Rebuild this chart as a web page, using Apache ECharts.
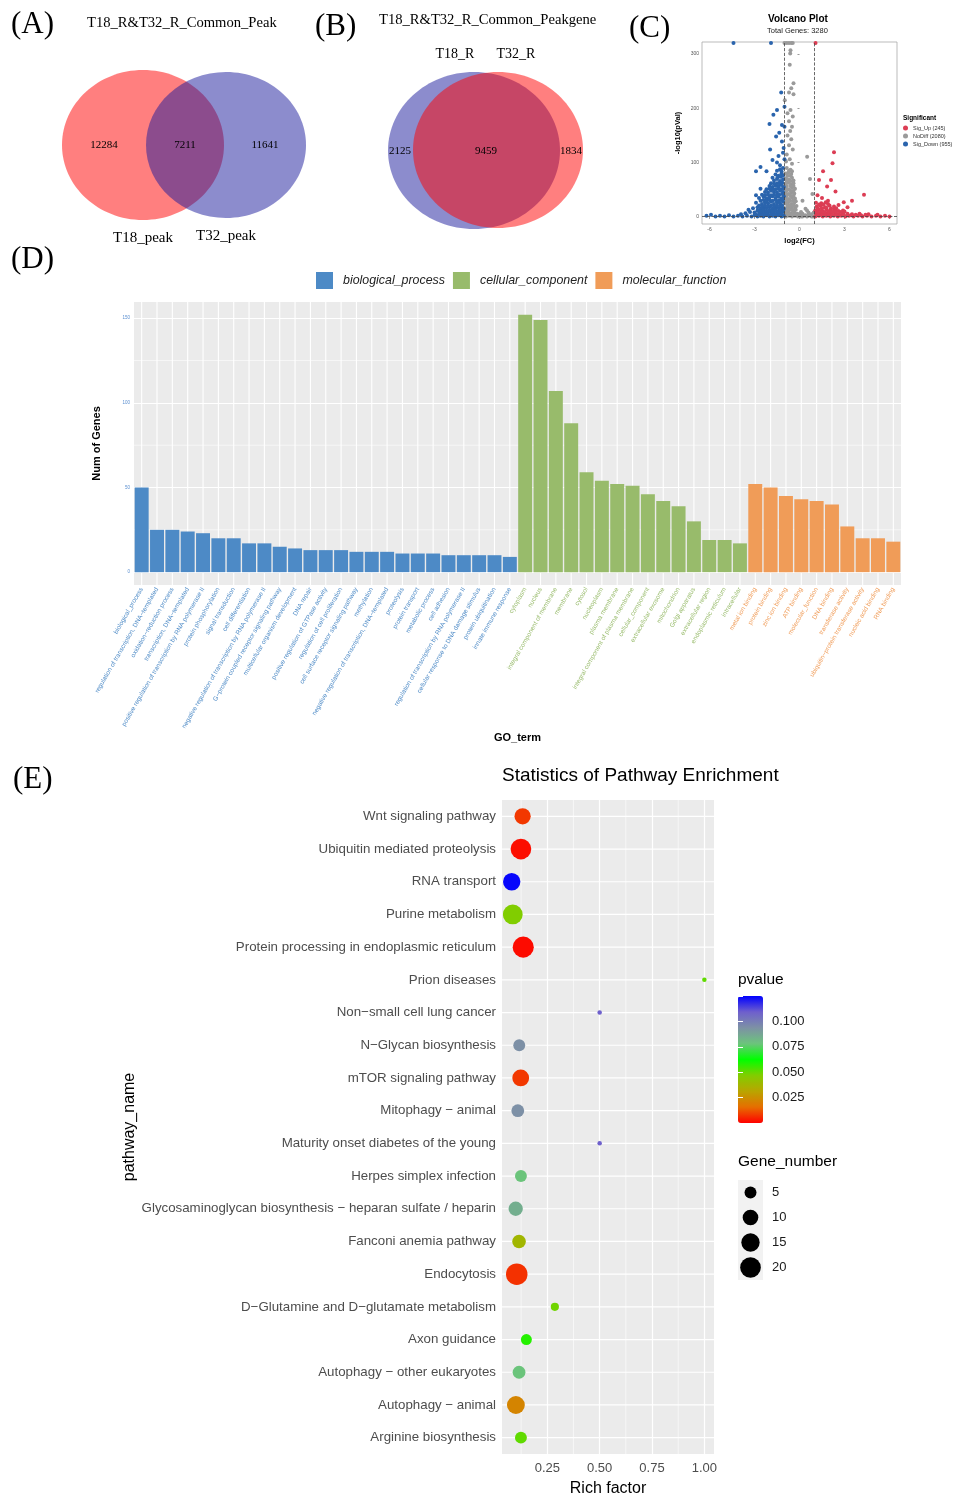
<!DOCTYPE html>
<html><head><meta charset="utf-8">
<script src="https://cdn.jsdelivr.net/npm/echarts@6/dist/echarts.min.js"></script>
<style>html,body{margin:0;padding:0;background:#fff}#c{width:962px;height:1498px}</style>
</head><body><div id="c"></div>
<script>
// ================= DATA =================
// (A) Venn
const vennA_sets = ['T18_peak', 'T32_peak'];
const vennA_counts = [12284, 7211, 11641];      // left only, common, right only
// (B) Venn
const vennB_sets = ['T18_R', 'T32_R'];
const vennB_counts = [2125, 9459, 1834];

// (C) Volcano
const volcanoTotal = 3280;
const volcanoNames = ['Sig_Up', 'NoDiff', 'Sig_Down'];
const volcanoCounts = [245, 2080, 955];
const fcThreshold = [-1, 1];
const pThreshold = 1.3;
const volcanoUp = [[1.07,320],[2.3,119],[2.2,99],[1.57,84],[1.3,68],[2.1,68],[1.84,56],[2.4,47],[4.3,41],[3.5,30],[2.95,27],[1.2,40],[1.5,35],[1.9,30],[2.6,22],[3.2,18],
[1.05,1],[1.3,2],[1.55,1],[1.8,2],[2.05,1],[2.3,2],[2.55,1],[2.8,2],[3.05,1],[3.3,2],[3.6,1],[3.9,2],[4.2,1],[4.5,2],[4.8,1],[5.1,2],[5.4,1],[5.7,2],[6.0,1],
[1.1,6],[1.35,7],[1.6,5],[1.85,7],[2.1,6],[2.35,8],[2.6,5],[2.9,7],[3.2,6],[3.5,5],[4.0,6],[4.6,5],[5.2,4],
[1.05,12],[1.3,13],[1.55,11],[1.8,14],[2.05,12],[2.3,13],[2.6,11],[2.9,12],
[1.15,19],[1.4,20],[1.7,18],[2.0,21],[2.3,19],[1.1,26],[1.45,25],[1.75,27],
[1.2,3],[1.45,4],[1.7,3],[1.95,4],[2.2,3],[2.45,4],[2.7,3],[2.95,4],[3.2,3],[3.45,3],[3.75,4],[4.1,3],[4.4,4],
[1.2,9],[1.45,10],[1.7,9],[1.95,10],[2.2,9],[2.45,10],[2.75,9],[3.0,10],
[1.2,16],[1.5,16],[1.8,17],[2.1,16],[2.45,16],[1.3,23],[1.6,23],[1.9,24]];
const volcanoNoDiff = [[-0.9,1],[-0.7,2],[-0.5,1],[-0.3,2],[-0.1,1],[0.1,1],[0.3,2],[0.5,1],[0.7,3],[0.9,1],[0.2,6],[0.6,8],[0.8,5],[0.4,15],[0.0,5],
[-0.95,8],[-0.75,10],[-0.55,7],[-0.35,9],[-0.15,6],[-0.9,16],[-0.7,18],[-0.5,15],[-0.3,17],
[-0.95,25],[-0.75,27],[-0.55,24],[-0.35,26],[-0.9,35],[-0.7,33],[-0.5,36],[-0.3,34],
[-0.95,44],[-0.75,42],[-0.55,45],[-0.35,43],[-0.9,53],[-0.7,51],[-0.5,54],[-0.3,52],
[-0.95,61],[-0.75,63],[-0.55,60],[-0.4,62],[-0.9,71],[-0.7,69],[-0.5,72],
[-0.95,80],[-0.75,82],[-0.55,79],[-0.85,90],[-0.6,87],
[-0.85,4],[-0.65,5],[-0.45,4],[-0.25,5],[-0.85,12],[-0.65,13],[-0.45,12],[-0.25,13],
[-0.8,21],[-0.6,21],[-0.4,21],[-0.2,20],[-0.85,30],[-0.65,30],[-0.45,30],[-0.25,29],
[-0.85,39],[-0.6,39],[-0.4,39],[-0.85,48],[-0.6,48],[-0.4,48],[-0.85,57],[-0.6,57],[-0.4,57],
[-0.85,66],[-0.6,66],[-0.4,67],[-0.8,76],[-0.6,76],[-0.7,85],[-0.5,84],
[0.0,2],[0.2,1],[0.4,3],[0.6,2],[0.8,1],[0.1,9],[0.5,12],[0.95,8],
[-0.9,102],[-0.5,98],[-0.65,106],[-0.85,115],[-0.45,124],[-0.7,132],[-0.55,143],[-0.8,150],[-0.62,158],[-0.5,166],[-0.7,176],[-0.45,185],[-0.8,191],[-0.6,197],[-0.98,215],[-0.4,226],[-0.7,229],[-0.55,237],[-0.4,246],[-0.65,280],[-0.62,301],[-0.6,307],
[-1.0,320],[-0.85,320],[-0.7,320],[-0.55,320],[-0.45,320],[0.51,111],[0.7,70],[0.86,42],[0.2,30]];
const volcanoDown = [[-6.2,2],[-5.9,4],[-5.6,1],[-5.3,2],[-5.0,1],[-4.7,3],[-4.4,1],[-4.1,2],[-3.9,5],[-3.8,1],[-3.6,7],[-3.5,2],[-3.4,13],[-3.3,9],[-3.2,1],[-3.1,16],[-3.0,3],[-3.0,8],[-2.9,26],[-2.9,40],[-2.8,1],[-2.8,18],[-2.7,10],[-2.7,35],[-2.6,2],[-2.6,15],[-2.6,52],[-2.5,7],[-2.5,24],[-2.4,1],[-2.4,17],[-2.4,37],[-2.3,9],[-2.3,27],[-2.3,46],[-2.2,3],[-2.2,16],[-2.2,34],[-2.1,8],[-2.1,25],[-2.1,45],[-2.0,1],[-2.0,18],[-2.0,36],[-2.0,57],[-1.9,10],[-1.9,28],[-1.9,48],[-1.8,2],[-1.8,15],[-1.8,38],[-1.8,55],[-1.7,7],[-1.7,24],[-1.7,46],[-1.7,67],[-1.6,1],[-1.6,17],[-1.6,35],[-1.6,58],[-1.6,78],[-1.5,9],[-1.5,27],[-1.5,45],[-1.5,70],[-1.4,3],[-1.4,16],[-1.4,37],[-1.4,56],[-1.4,76],[-1.3,8],[-1.3,25],[-1.3,48],[-1.3,66],[-1.2,1],[-1.2,18],[-1.2,34],[-1.2,59],[-1.2,80],[-1.1,10],[-1.1,28],[-1.1,46],[-1.1,69],[-1.05,2],[-1.05,15],[-1.05,38],[-1.05,55],
[-2.9,5],[-2.7,4],[-2.5,3],[-2.3,5],[-2.1,4],[-1.9,5],[-1.7,3],[-1.5,4],[-1.3,5],[-1.15,4],
[-2.8,12],[-2.6,10],[-2.4,12],[-2.2,11],[-2.0,12],[-1.8,11],[-1.6,12],[-1.4,10],[-1.25,12],[-1.1,11],
[-2.7,21],[-2.5,20],[-2.3,21],[-2.1,20],[-1.9,21],[-1.7,20],[-1.5,21],[-1.3,20],[-1.15,21],
[-2.6,30],[-2.4,31],[-2.2,30],[-2.0,31],[-1.8,30],[-1.6,31],[-1.4,30],[-1.25,31],[-1.1,32],
[-2.5,41],[-2.3,40],[-2.1,41],[-1.9,40],[-1.7,41],[-1.5,40],[-1.35,41],[-1.15,42],
[-2.2,51],[-2.0,52],[-1.8,51],[-1.6,51],[-1.45,52],[-1.25,51],[-1.1,52],
[-1.9,62],[-1.7,61],[-1.5,62],[-1.35,62],[-1.15,63],[-1.8,72],[-1.45,73],[-1.25,74],[-1.1,76],
[-1.5,85],[-1.3,88],[-1.1,90],
[-2.9,84],[-2.6,92],[-2.2,84],[-1.5,100],[-1.2,84],[-1.0,106],[-1.4,112],[-1.96,124],[-1.06,127],[-1.17,139],[-1.56,148],[-1.0,166],[-1.17,169],[-2.0,171],[-1.74,188],[-1.5,197],[-1.0,203],[-1.22,229],[-1.3,95],[-1.8,105],[-1.1,118],[-1.35,155],
[-4.4,320],[-1.9,320]];

// (D) GO bar chart
const goGroups = ['biological_process', 'cellular_component', 'molecular_function'];
const goBP = ['biological_process','regulation of transcription, DNA\u2212templated','oxidation\u2212reduction process','transcription, DNA\u2212templated','positive regulation of transcription by RNA polymerase II','protein phosphorylation','signal transduction','cell differentiation','negative regulation of transcription by RNA polymerase II','G\u2212protein coupled receptor signaling pathway','multicellular organism development','DNA repair','positive regulation of GTPase activity','regulation of cell proliferation','cell surface receptor signaling pathway','methylation','negative regulation of transcription, DNA\u2212templated','proteolysis','protein transport','metabolic process','cell adhesion','regulation of transcription by RNA polymerase II','cellular response to DNA damage stimulus','protein ubiquitination','innate immune response'];
const goBPValues = [50,25,25,24,23,20,20,17,17,15,14,13,13,13,12,12,12,11,11,11,10,10,10,10,9];
const goCC = ['cytoplasm','nucleus','integral component of membrane','membrane','cytosol','nucleoplasm','plasma membrane','integral component of plasma membrane','cellular_component','extracellular exosome','mitochondrion','Golgi apparatus','extracellular region','endoplasmic reticulum','intracellular'];
const goCCValues = [152,149,107,88,59,54,52,51,46,42,39,30,19,19,17];
const goMF = ['metal ion binding','protein binding','zinc ion binding','ATP binding','molecular_function','DNA binding','transferase activity','ubiquitin\u2212protein transferase activity','nucleic acid binding','RNA binding'];
const goMFValues = [52,50,45,43,42,40,27,20,20,18];
const goMinorTicks = [25, 75, 125];

// (E) KEGG enrichment
const pathways = ['Wnt signaling pathway','Ubiquitin mediated proteolysis','RNA transport','Purine metabolism','Protein processing in endoplasmic reticulum','Prion diseases','Non\u2212small cell lung cancer','N\u2212Glycan biosynthesis','mTOR signaling pathway','Mitophagy \u2212 animal','Maturity onset diabetes of the young','Herpes simplex infection','Glycosaminoglycan biosynthesis \u2212 heparan sulfate / heparin','Fanconi anemia pathway','Endocytosis','D\u2212Glutamine and D\u2212glutamate metabolism','Axon guidance','Autophagy \u2212 other eukaryotes','Autophagy \u2212 animal','Arginine biosynthesis'];
const richFactor = [0.132,0.124,0.080,0.085,0.135,1.0,0.5,0.116,0.123,0.109,0.5,0.124,0.099,0.115,0.104,0.286,0.150,0.115,0.100,0.124];
const geneNumber = [11,20,13,18,21,1,1,5,12,6,1,5,8,7,22,2,4,6,14,5];
const pValue = [0.008,0.002,0.124,0.047,0.0015,0.051,0.109,0.094,0.008,0.094,0.109,0.078,0.085,0.038,0.007,0.049,0.058,0.078,0.022,0.051];
const richMinorTicks = [0.125, 0.375, 0.625, 0.875];
const geneLegend = [5, 10, 15, 20];

// ================= STYLE HELPERS =================
const SERIF = "'Liberation Serif','DejaVu Serif',serif";
const SANS = "'Liberation Sans',Arial,Helvetica,sans-serif";
const C_BP = '#4d8ac6', C_CC = '#98bb6b', C_MF = '#f09c58';
const sizeOf = n => 4.5 + 17 * Math.sqrt((n - 1) / 21);

const goCats = goBP.concat(goCC, goMF);
const goColors = goBP.map(() => C_BP).concat(goCC.map(() => C_CC), goMF.map(() => C_MF));
const pad = (arr, before, after) => Array(before).fill('-').concat(arr, Array(after).fill('-'));

function vennSeries(idx, sets, counts, L) {
  return {
    type: 'custom', xAxisIndex: idx, yAxisIndex: idx, silent: true, data: [[0, 0]],
    renderItem: function (params, api) {
      const ch = [];
      L.ell.forEach(e => {
        const c = api.coord([e.cx, e.cy]); const s = api.size([e.rx, e.ry]);
        ch.push({type: 'ellipse', shape: {cx: c[0], cy: c[1], rx: s[0], ry: s[1]}, style: {fill: e.fill, opacity: 0.5}});
      });
      counts.forEach((n, i) => {
        const p = api.coord(L.num[i]);
        ch.push({type: 'text', x: p[0], y: p[1], style: {text: String(n), fontFamily: SERIF, fontSize: 11, fill: '#000', align: 'center', verticalAlign: 'middle'}});
      });
      sets.forEach((s, i) => {
        const p = api.coord(L.name[i]);
        ch.push({type: 'text', x: p[0], y: p[1], style: {text: s, fontFamily: SERIF, fontSize: L.nameSize, fill: '#000', align: 'center', verticalAlign: 'middle'}});
      });
      return {type: 'group', children: ch};
    }
  };
}
const RED = 'rgb(255,0,0)', BLUE = 'rgb(25,25,155)';

function hiddenAxes(grid, w, h) {
  return [{gridIndex: grid, type: 'value', min: 0, max: w, show: false},
          {gridIndex: grid, type: 'value', min: 0, max: h, inverse: true, show: false}];
}
const axA = hiddenAxes(0, 260, 180), axB = hiddenAxes(1, 230, 200);
const panelLabel = (t, left, top) => ({text: t, left: left, top: top, padding: 0, textStyle: {fontFamily: SERIF, fontSize: 31, fontWeight: 'normal', color: '#000'}});

const option = {
  animation: false,
  backgroundColor: '#ffffff',
  title: [
    panelLabel('(A)', 11, 9),
    {text: 'T18_R&T32_R_Common_Peak', left: 87, top: 16, padding: 0, textStyle: {fontFamily: SERIF, fontSize: 14.6, fontWeight: 'normal', color: '#000'}},
    panelLabel('(B)', 315, 11),
    {text: 'T18_R&T32_R_Common_Peakgene', left: 379, top: 13, padding: 0, textStyle: {fontFamily: SERIF, fontSize: 14.6, fontWeight: 'normal', color: '#000'}},
    panelLabel('(C)', 629, 13),
    {text: 'Volcano Plot', left: 768, top: 14, padding: 0, textStyle: {fontFamily: SANS, fontSize: 10, fontWeight: 'bold', color: '#000'}},
    {text: 'Total Genes: ' + volcanoTotal, left: 767, top: 27, padding: 0, textStyle: {fontFamily: SANS, fontSize: 7.5, fontWeight: 'normal', color: '#222'}},
    {text: 'Significant', left: 903, top: 115, padding: 0, textStyle: {fontFamily: SANS, fontSize: 6.5, fontWeight: 'bold', color: '#000'}},
    panelLabel('(D)', 11, 244),
    panelLabel('(E)', 13, 764),
    {text: 'Statistics of Pathway Enrichment', left: 502, top: 766, padding: 0, textStyle: {fontFamily: SANS, fontSize: 19, fontWeight: 'normal', color: '#000'}},
    {text: 'pvalue', left: 738, top: 972, padding: 0, textStyle: {fontFamily: SANS, fontSize: 15.5, fontWeight: 'normal', color: '#000'}},
    {text: 'Gene_number', left: 738, top: 1154, padding: 0, textStyle: {fontFamily: SANS, fontSize: 15.5, fontWeight: 'normal', color: '#000'}}
  ],
  legend: [
    {data: goGroups, left: 316, top: 272, padding: 0, orient: 'horizontal', icon: 'rect', itemWidth: 17, itemHeight: 17, itemGap: 8,
     textStyle: {fontFamily: SANS, fontStyle: 'italic', fontSize: 12.4, color: '#222', padding: [0, 0, 0, 5]}},
    {data: volcanoNames.map((n, i) => n + ' (' + volcanoCounts[i] + ')'), left: 903, top: 125, padding: 0, orient: 'vertical', icon: 'circle', itemWidth: 5, itemHeight: 5, itemGap: 2,
     textStyle: {fontFamily: SANS, fontSize: 5.5, color: '#333'}}
  ],
  grid: [
    {left: 50, top: 55, width: 260, height: 180, show: false},
    {left: 370, top: 40, width: 230, height: 200, show: false},
    {left: 702, top: 42, width: 195, height: 182, show: true, backgroundColor: '#fff', borderColor: '#aaa', borderWidth: 0.8},
    {left: 134, top: 302, width: 767, height: 283, show: true, backgroundColor: '#ebebeb', borderWidth: 0},
    {left: 502, top: 800, width: 212, height: 655, show: true, backgroundColor: '#ebebeb', borderWidth: 0},
    {left: 738, top: 996, width: 25, height: 127, show: false},
    {left: 738, top: 1180, width: 25, height: 100, show: true, backgroundColor: '#f2f2f2', borderWidth: 0}
  ],
  xAxis: [
    axA[0], axB[0],
    {gridIndex: 2, type: 'value', min: -6.5, max: 6.5, minInterval: 3, maxInterval: 3,
     axisLine: {show: false}, axisTick: {length: 2, lineStyle: {color: '#555', width: 0.6}},
     axisLabel: {fontFamily: SANS, fontSize: 5, color: '#555', margin: 3, showMinLabel: false, showMaxLabel: false},
     splitLine: {show: false},
     name: 'log2(FC)', nameLocation: 'middle', nameGap: 13, nameTextStyle: {fontFamily: SANS, fontSize: 7.5, fontWeight: 'bold', color: '#000'}},
    {gridIndex: 3, type: 'category', data: goCats, axisLine: {show: false},
     axisTick: {alignWithLabel: true, length: 3, lineStyle: {color: '#333', width: 0.8}},
     axisLabel: {interval: 0, rotate: 60, fontFamily: SANS, fontSize: 6.4, margin: 3, color: (v, i) => goColors[i]},
     name: 'GO_term', nameLocation: 'middle', nameGap: 147, nameTextStyle: {fontFamily: SANS, fontSize: 11, fontWeight: 'bold', color: '#000'}},
    {gridIndex: 4, type: 'value', min: 0.0336, max: 1.046, minInterval: 0.25, maxInterval: 0.25,
     axisLine: {show: false}, axisTick: {length: 3, lineStyle: {color: '#333'}},
     axisLabel: {fontFamily: SANS, fontSize: 13, color: '#4d4d4d', margin: 8, showMinLabel: false, showMaxLabel: false, formatter: v => v.toFixed(2)},
     splitLine: {show: true, showMinLine: false, showMaxLine: false, lineStyle: {color: '#fff', width: 1.2}},
     name: 'Rich factor', nameLocation: 'middle', nameGap: 27, nameTextStyle: {fontFamily: SANS, fontSize: 16, color: '#000'}},
    {gridIndex: 5, type: 'value', min: 0, max: 1, show: false},
    {gridIndex: 6, type: 'value', min: 0, max: 1, show: false}
  ],
  yAxis: [
    axA[1], axB[1],
    {gridIndex: 2, type: 'value', min: -13, max: 322, minInterval: 100, maxInterval: 100,
     axisLine: {show: false}, axisTick: {length: 2, lineStyle: {color: '#555', width: 0.6}},
     axisLabel: {fontFamily: SANS, fontSize: 5, color: '#555', margin: 3, showMinLabel: false, showMaxLabel: false},
     splitLine: {show: false},
     name: '-log10(pVal)', nameLocation: 'middle', nameGap: 20, nameTextStyle: {fontFamily: SANS, fontSize: 7.5, fontWeight: 'bold', color: '#000'}},
    {gridIndex: 3, type: 'value', min: -7.6, max: 159.6, minInterval: 50, maxInterval: 50,
     axisLine: {show: false}, axisTick: {length: 3, lineStyle: {color: '#333', width: 0.6}},
     axisLabel: {fontFamily: SANS, fontSize: 4.5, color: '#5b8fd0', margin: 4, showMinLabel: false, showMaxLabel: false},
     splitLine: {show: true, showMinLine: false, showMaxLine: false, lineStyle: {color: '#fff', width: 1.2}},
     name: 'Num of Genes', nameLocation: 'middle', nameGap: 32, nameTextStyle: {fontFamily: SANS, fontSize: 11, fontWeight: 'bold', color: '#000'}},
    {gridIndex: 4, type: 'category', data: pathways, inverse: true, axisLine: {show: false},
     axisTick: {alignWithLabel: true, length: 3, lineStyle: {color: '#333'}},
     axisLabel: {interval: 0, fontFamily: SANS, fontSize: 13.3, color: '#4d4d4d', margin: 6},
     name: 'pathway_name', nameLocation: 'middle', nameGap: 362, nameTextStyle: {fontFamily: SANS, fontSize: 16, color: '#000'}},
    {gridIndex: 5, type: 'value', min: 0, max: 0.125, interval: 0.025, position: 'right', z: 10,
     axisLine: {show: false}, splitLine: {show: false},
     axisTick: {inside: true, length: 5, lineStyle: {color: '#fff', width: 1}},
     axisLabel: {fontFamily: SANS, fontSize: 13, color: '#1a1a1a', margin: 9, showMinLabel: false, showMaxLabel: false, formatter: v => v.toFixed(3)}},
    {gridIndex: 5, type: 'value', min: 0, max: 0.125, interval: 0.025, position: 'left', z: 10,
     axisLine: {show: false}, splitLine: {show: false}, axisLabel: {show: false},
     axisTick: {inside: true, length: 5, lineStyle: {color: '#fff', width: 1}}},
    {gridIndex: 6, type: 'category', data: geneLegend.map(String), inverse: true, position: 'right',
     axisLine: {show: false}, axisTick: {show: false}, splitLine: {show: false},
     axisLabel: {fontFamily: SANS, fontSize: 13, color: '#1a1a1a', margin: 9}}
  ],
  visualMap: [{
    type: 'continuous', seriesIndex: 12, dimension: 3, min: 0, max: 0.125,
    left: 738, top: 996, itemWidth: 25, itemHeight: 127, padding: 0, calculable: false, orient: 'vertical',
    text: null, hoverLink: false,
    inRange: {color: ['#ff0000', '#e66e00', '#b9a500', '#82cd00', '#00ff00', '#6cc47c', '#7d91a5', '#6e5fcd', '#0000ff']}
  }],
  series: [
    // 0,1 Venn diagrams
    vennSeries(0, vennA_sets, vennA_counts, {
      ell: [{cx: 93, cy: 90, rx: 81, ry: 75, fill: RED}, {cx: 176, cy: 90, rx: 80, ry: 73, fill: BLUE}],
      num: [[54, 90], [135, 90], [215, 90]], name: [[93, 183], [176, 181]], nameSize: 15}),
    vennSeries(1, vennB_sets, vennB_counts, {
      ell: [{cx: 104, cy: 110.5, rx: 86, ry: 78.5, fill: BLUE}, {cx: 128, cy: 110, rx: 85, ry: 78, fill: RED}],
      num: [[30, 111], [116, 111], [201, 111]], name: [[85, 14], [146, 14]], nameSize: 14}),
    // 2-4 volcano
    {type: 'scatter', name: volcanoNames[1] + ' (' + volcanoCounts[1] + ')', xAxisIndex: 2, yAxisIndex: 2, data: volcanoNoDiff, symbolSize: 4,
     itemStyle: {color: '#9a9a9a', opacity: 1},
     markLine: {silent: true, symbol: 'none', label: {show: false}, lineStyle: {type: 'dashed', color: '#444', width: 0.8},
       data: fcThreshold.map(v => ({xAxis: v})).concat([{yAxis: pThreshold}])}},
    {type: 'scatter', name: volcanoNames[2] + ' (' + volcanoCounts[2] + ')', xAxisIndex: 2, yAxisIndex: 2, data: volcanoDown, symbolSize: 4, itemStyle: {color: '#2a64ad', opacity: 1}},
    {type: 'scatter', name: volcanoNames[0] + ' (' + volcanoCounts[0] + ')', xAxisIndex: 2, yAxisIndex: 2, data: volcanoUp, symbolSize: 4, itemStyle: {color: '#dc3d54', opacity: 1}},
    // 5,6 GO gridlines
    {type: 'custom', xAxisIndex: 3, yAxisIndex: 3, silent: true, z: 1, data: goCats.map((c, i) => [i, 0]),
     renderItem: (params, api) => { const cs = params.coordSys; const x = api.coord([api.value(0), 0])[0];
       return {type: 'line', shape: {x1: x, y1: cs.y, x2: x, y2: cs.y + cs.height}, style: {stroke: '#fff', lineWidth: 1.1}}; }},
    {type: 'custom', xAxisIndex: 3, yAxisIndex: 3, silent: true, z: 1, data: goMinorTicks.map(v => [0, v]),
     renderItem: (params, api) => { const cs = params.coordSys; const y = api.coord([0, api.value(1)])[1];
       return {type: 'line', shape: {x1: cs.x, y1: y, x2: cs.x + cs.width, y2: y}, style: {stroke: '#fff', lineWidth: 0.6}}; }},
    // 7-9 GO bars
    {type: 'bar', name: goGroups[0], xAxisIndex: 3, yAxisIndex: 3, stack: 'go', barCategoryGap: '9%', z: 2,
     data: pad(goBPValues, 0, goCC.length + goMF.length), itemStyle: {color: C_BP}},
    {type: 'bar', name: goGroups[1], xAxisIndex: 3, yAxisIndex: 3, stack: 'go', barCategoryGap: '9%', z: 2,
     data: pad(goCCValues, goBP.length, goMF.length), itemStyle: {color: C_CC}},
    {type: 'bar', name: goGroups[2], xAxisIndex: 3, yAxisIndex: 3, stack: 'go', barCategoryGap: '9%', z: 2,
     data: pad(goMFValues, goBP.length + goCC.length, 0), itemStyle: {color: C_MF}},
    // 10,11 enrichment gridlines
    {type: 'custom', xAxisIndex: 4, yAxisIndex: 4, silent: true, z: 1, data: pathways.map((p, i) => [0.5, i]),
     renderItem: (params, api) => { const cs = params.coordSys; const y = api.coord([0.5, api.value(1)])[1];
       return {type: 'line', shape: {x1: cs.x, y1: y, x2: cs.x + cs.width, y2: y}, style: {stroke: '#fff', lineWidth: 1.2}}; }},
    {type: 'custom', xAxisIndex: 4, yAxisIndex: 4, silent: true, z: 1, data: richMinorTicks.map(v => [v, 0]),
     renderItem: (params, api) => { const cs = params.coordSys; const x = api.coord([api.value(0), 0])[0];
       return {type: 'line', shape: {x1: x, y1: cs.y, x2: x, y2: cs.y + cs.height}, style: {stroke: '#fff', lineWidth: 0.6}}; }},
    // 12 enrichment bubbles
    {type: 'scatter', xAxisIndex: 4, yAxisIndex: 4, z: 3,
     data: pathways.map((p, i) => [richFactor[i], i, geneNumber[i], pValue[i]]),
     encode: {x: 0, y: 1}, symbolSize: v => sizeOf(v[2]), itemStyle: {opacity: 1}},
    // 13 gene number legend keys
    {type: 'scatter', xAxisIndex: 6, yAxisIndex: 7, z: 3, silent: true,
     data: geneLegend.map((g, i) => [0.5, i, g]), encode: {x: 0, y: 1},
     symbolSize: v => sizeOf(v[2]), itemStyle: {color: '#000', opacity: 1}}
  ]
};
const chart = echarts.init(document.getElementById('c'), null, {renderer: 'canvas'});
chart.setOption(option);
</script></body></html>
